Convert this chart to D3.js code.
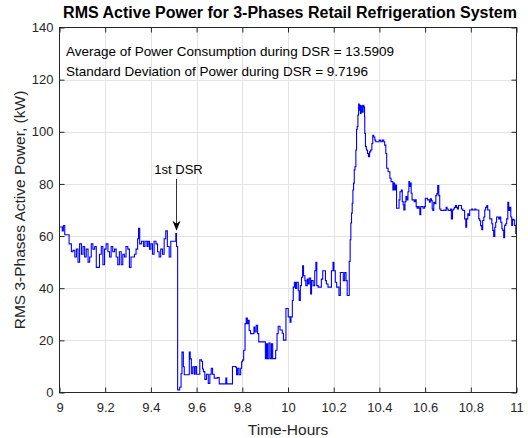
<!DOCTYPE html>
<html>
<head>
<meta charset="utf-8">
<script src="https://cdn.jsdelivr.net/npm/d3@7"></script>
<style>
  html, body { margin: 0; padding: 0; background: #ffffff; }
  svg { display: block; font-family: "Liberation Sans", Arial, sans-serif; }
</style>
</head>
<body>
<svg id="chart" width="528" height="438"></svg>
<script>
(function() {
  var titleText = "RMS Active Power for 3-Phases Retail Refrigeration System";
  var xLabelText = "Time-Hours";
  var yLabelText = "RMS 3-Phases Active Power, (kW)";
  var statLines = [
    "Average of Power Consumption during DSR = 13.5909",
    "Standard Deviation of Power during DSR = 9.7196"
  ];
  var dsrLabel = "1st DSR";
  var dsrPoint = [9.512, 62]; // [hour, kW] where the arrow points

  var xTicks = [9, 9.2, 9.4, 9.6, 9.8, 10, 10.2, 10.4, 10.6, 10.8, 11];
  var yTicks = [0, 20, 40, 60, 80, 100, 120, 140];

  // [hour, kW], step-wise signal
  var beforeDsr = [
    [9.000, 63.5], [9.012, 62], [9.017, 64], [9.023, 60.5], [9.042, 57], [9.052, 54], [9.059, 54.5], [9.067, 52],
    [9.074, 55], [9.081, 50], [9.088, 57], [9.096, 53], [9.103, 56], [9.110, 52], [9.117, 55], [9.125, 50],
    [9.132, 52], [9.139, 57], [9.146, 55], [9.154, 56], [9.161, 48], [9.175, 53], [9.183, 56], [9.190, 49],
    [9.197, 55], [9.204, 57], [9.212, 54], [9.219, 52], [9.226, 56], [9.233, 54], [9.241, 55], [9.248, 52],
    [9.255, 49], [9.262, 54], [9.270, 49], [9.277, 53], [9.284, 52], [9.291, 56], [9.299, 55], [9.306, 48],
    [9.313, 52], [9.328, 53], [9.335, 55], [9.342, 59], [9.346, 63], [9.351, 57], [9.359, 58], [9.368, 56],
    [9.374, 58], [9.383, 56], [9.388, 58], [9.394, 55], [9.400, 57], [9.407, 53], [9.414, 58], [9.422, 57],
    [9.429, 54], [9.436, 52], [9.443, 55], [9.451, 53], [9.458, 59], [9.465, 62], [9.472, 56], [9.480, 52],
    [9.487, 58], [9.509, 61], [9.512, 56]
  ];
  var duringDsr = [
    [9.517, 1], [9.526, 2], [9.532, 7.2], [9.536, 15.5], [9.542, 9.9], [9.546, 6.8], [9.568, 15.5], [9.572, 12.9],
    [9.577, 7.2], [9.583, 9.9], [9.590, 7], [9.594, 10], [9.600, 7], [9.614, 12.5], [9.621, 12], [9.626, 9],
    [9.630, 8], [9.636, 5], [9.643, 7], [9.651, 3.5], [9.658, 7], [9.664, 9.3], [9.670, 7], [9.677, 5.5],
    [9.691, 5.7], [9.699, 3.3], [9.728, 5.5], [9.732, 3.3], [9.757, 10], [9.771, 9.7], [9.775, 6.8], [9.780, 9.3],
    [9.786, 6.8], [9.793, 9.3], [9.797, 11.8], [9.801, 12.4], [9.806, 16.2], [9.812, 26.4], [9.817, 28.6], [9.822, 26.4],
    [9.826, 27.7], [9.830, 23.8], [9.836, 22.6], [9.851, 25.1], [9.855, 23.2], [9.861, 25.8], [9.867, 22.6], [9.872, 19.4],
    [9.901, 13], [9.906, 18.7], [9.910, 13], [9.916, 19], [9.922, 13], [9.928, 18.7], [9.933, 13], [9.946, 16.2],
    [9.952, 22.6], [9.957, 25.4]
  ];
  var recovery = [
    [9.965, 24], [9.975, 22.7], [9.980, 20.1], [9.991, 32.2], [10.001, 29], [10.009, 27], [10.013, 29], [10.019, 35.3],
    [10.023, 40.4], [10.028, 42.3], [10.033, 39.9], [10.038, 42.3], [10.045, 39], [10.049, 35.3], [10.054, 41], [10.059, 44.2],
    [10.064, 48.6], [10.068, 44.8], [10.074, 42.9], [10.078, 41], [10.084, 43.5], [10.088, 41.6], [10.093, 43.9], [10.099, 37.8],
    [10.103, 42.9], [10.110, 41], [10.117, 46.7], [10.122, 49.9], [10.126, 41], [10.132, 40.4], [10.146, 43.5], [10.152, 46.7],
    [10.164, 42.9], [10.168, 41.6], [10.175, 40.4], [10.190, 46.7], [10.197, 49.9], [10.201, 46.7], [10.207, 42.3], [10.213, 40.4],
    [10.223, 37.2], [10.229, 46], [10.242, 42.9], [10.248, 46], [10.254, 42.9], [10.259, 37.2], [10.268, 50.3], [10.272, 58.6],
    [10.275, 65], [10.278, 68.8], [10.281, 72.6], [10.284, 77.7], [10.287, 80.3], [10.290, 85.4], [10.293, 86.6], [10.297, 93],
    [10.300, 101], [10.303, 102], [10.306, 106.4], [10.309, 110.6], [10.312, 108.3], [10.314, 110.2], [10.317, 107], [10.320, 110],
    [10.325, 107.5], [10.329, 110.2], [10.332, 109.5], [10.335, 105.7], [10.336, 99.4], [10.339, 94.3], [10.343, 93], [10.348, 91.7],
    [10.352, 90.4], [10.357, 92.3], [10.362, 93], [10.367, 95.5], [10.371, 98.7], [10.375, 98], [10.380, 96.8], [10.384, 96.2],
    [10.399, 96.8], [10.406, 96.2], [10.413, 96.8], [10.419, 96.2], [10.423, 94.9], [10.428, 91.7], [10.432, 86], [10.438, 84.7],
    [10.446, 82.2], [10.451, 80.9], [10.459, 77.7], [10.462, 80.3], [10.467, 77.7], [10.471, 79.6], [10.475, 70.7], [10.486, 73.9],
    [10.490, 77], [10.496, 77.7], [10.500, 73.2], [10.504, 72], [10.507, 70], [10.512, 73.2], [10.516, 75.2], [10.520, 73.9],
    [10.525, 77], [10.529, 80.9], [10.532, 79], [10.536, 80.3], [10.539, 76.4], [10.543, 73.9], [10.552, 73.2], [10.557, 73.9],
    [10.561, 71.3], [10.565, 70.7], [10.570, 71.3], [10.574, 70.7], [10.577, 68.2], [10.581, 71.3], [10.591, 70.7], [10.597, 71.3],
    [10.601, 74.5], [10.610, 73.9]
  ];
  var settling = [
    [10.619, 73], [10.623, 74.3], [10.628, 73.6], [10.631, 70.4], [10.634, 69.8], [10.638, 73], [10.642, 72.4], [10.647, 75.5],
    [10.651, 76.2], [10.655, 79.4], [10.660, 75.5], [10.664, 70.4], [10.669, 69.8], [10.680, 70], [10.686, 69.8], [10.692, 71],
    [10.696, 70.4], [10.701, 69.8], [10.711, 70.4], [10.715, 66.6], [10.720, 70], [10.724, 70.4], [10.728, 71], [10.733, 71.7],
    [10.737, 71], [10.741, 70.4], [10.746, 71.7], [10.759, 70.4], [10.765, 69.8], [10.773, 66.6], [10.778, 63.4], [10.782, 66.6],
    [10.787, 68.5], [10.791, 67.9], [10.795, 70], [10.804, 70.4], [10.808, 70], [10.817, 70.4], [10.822, 70], [10.835, 66.6],
    [10.839, 65.9], [10.843, 64], [10.848, 62.4], [10.852, 66], [10.857, 67.3], [10.861, 70], [10.865, 71], [10.870, 71.7],
    [10.874, 70], [10.883, 66.6], [10.892, 64.7], [10.896, 62.2], [10.900, 59.9], [10.905, 63.4], [10.909, 65.3], [10.913, 67.3],
    [10.922, 66.6], [10.927, 67.3], [10.931, 65.3], [10.936, 62.8], [10.940, 62.2], [10.944, 59.4], [10.948, 64.1], [10.953, 64.7],
    [10.957, 66.6], [10.962, 73], [10.966, 69.8], [10.970, 71], [10.975, 67.3], [10.979, 64.1], [10.983, 66.4], [10.988, 66.1],
    [10.992, 64.1], [10.997, 61], [11.000, 61]
  ];

  var points = beforeDsr.concat(duringDsr, recovery, settling);

  var axisColor = "#262626";
  var gridColor = "#e3e3e3";
  var x0 = 59.5, x1 = 516.5, y0 = 392.5, y1 = 27.5;

  var x = d3.scaleLinear().domain([9, 11]).range([x0, x1]);
  var y = d3.scaleLinear().domain([0, 140]).range([y0, y1]);
  var fmt = function(d) { return String(+d.toFixed(1)); };

  var chart = d3.select("#chart");

  chart.append("rect").attr("width", 528).attr("height", 438).attr("fill", "#ffffff");

  // grid
  var grid = chart.append("g").attr("stroke", gridColor).attr("stroke-width", 1);
  grid.selectAll("line.gx").data(xTicks.slice(1, -1)).enter().append("line")
    .attr("class", "gx")
    .attr("x1", function(d) { return Math.round(x(d)) + 0.5 })
    .attr("x2", function(d) { return Math.round(x(d)) + 0.5 })
    .attr("y1", y1).attr("y2", y0);
  grid.selectAll("line.gy").data(yTicks.slice(1, -1)).enter().append("line")
    .attr("class", "gy")
    .attr("y1", function(d) { return Math.round(y(d)) + 0.5 })
    .attr("y2", function(d) { return Math.round(y(d)) + 0.5 })
    .attr("x1", x0).attr("x2", x1);

  // power trace
  var line = d3.line()
    .x(function(d) { return x(d[0]) })
    .y(function(d) { return y(d[1]) })
    .curve(d3.curveStepAfter);

  chart.append("path")
    .datum(points)
    .attr("fill", "none")
    .attr("stroke", "#0000ff")
    .attr("stroke-width", 1.1)
    .attr("stroke-linejoin", "miter")
    .attr("d", line);

  // axes with inward ticks on all four sides
  var styleAxis = function(g) {
    g.select(".domain").remove();
    g.selectAll(".tick line").attr("stroke", axisColor);
    g.selectAll(".tick text").attr("fill", axisColor).attr("font-size", 13).attr("font-family", "Liberation Sans, Arial, sans-serif");
  };

  chart.append("g")
    .attr("transform", "translate(0," + y0 + ")")
    .call(d3.axisBottom(x).tickValues(xTicks).tickFormat(fmt).tickSizeInner(-5).tickSizeOuter(0).tickPadding(10))
    .call(styleAxis);

  chart.append("g")
    .attr("transform", "translate(0," + y1 + ")")
    .call(d3.axisTop(x).tickValues(xTicks).tickFormat("").tickSizeInner(-5).tickSizeOuter(0))
    .call(styleAxis);

  chart.append("g")
    .attr("transform", "translate(" + x0 + ",0)")
    .call(d3.axisLeft(y).tickValues(yTicks).tickFormat(fmt).tickSizeInner(-5).tickSizeOuter(0).tickPadding(6))
    .call(styleAxis);

  chart.append("g")
    .attr("transform", "translate(" + x1 + ",0)")
    .call(d3.axisRight(y).tickValues(yTicks).tickFormat("").tickSizeInner(-5).tickSizeOuter(0))
    .call(styleAxis);

  chart.append("rect")
    .attr("x", x0).attr("y", y1)
    .attr("width", x1 - x0).attr("height", y0 - y1)
    .attr("fill", "none")
    .attr("stroke", axisColor)
    .attr("stroke-width", 1);

  // title and axis labels
  chart.append("text")
    .attr("x", (x0 + x1) / 2 + 2)
    .attr("y", 18)
    .attr("text-anchor", "middle")
    .attr("font-size", 16)
    .attr("font-weight", "bold")
    .attr("fill", "#000000")
    .text(titleText);

  chart.append("text")
    .attr("x", (x0 + x1) / 2)
    .attr("y", 435)
    .attr("text-anchor", "middle")
    .attr("font-size", 15.5)
    .attr("fill", axisColor)
    .text(xLabelText);

  chart.append("text")
    .attr("transform", "translate(25," + ((y0 + y1) / 2) + ") rotate(-90)")
    .attr("text-anchor", "middle")
    .attr("font-size", 15.5)
    .attr("fill", axisColor)
    .text(yLabelText);

  // statistics block
  chart.append("g")
    .attr("font-size", 13.5)
    .attr("fill", "#000000")
    .selectAll("text").data(statLines).enter().append("text")
    .attr("x", 66)
    .attr("y", function(d, i) { return 56 + i * 19.5 })
    .text(function(d) { return d });

  // DSR arrow
  var ax = Math.round(x(dsrPoint[0])) + 0.5;
  var ay = y(dsrPoint[1]);
  chart.append("line")
    .attr("x1", ax).attr("x2", ax)
    .attr("y1", ay - 52).attr("y2", ay - 6)
    .attr("stroke", "#333333")
    .attr("stroke-width", 1);
  chart.append("path")
    .attr("d", "M" + ax + "," + ay + "L" + (ax - 4) + "," + (ay - 10) + "L" + ax + "," + (ay - 7) + "L" + (ax + 4) + "," + (ay - 10) + "Z")
    .attr("fill", "#000000");
  chart.append("text")
    .attr("x", ax + 2)
    .attr("y", ay - 57)
    .attr("text-anchor", "middle")
    .attr("font-size", 13)
    .attr("fill", "#000000")
    .text(dsrLabel);
})();
</script>
</body>
</html>
